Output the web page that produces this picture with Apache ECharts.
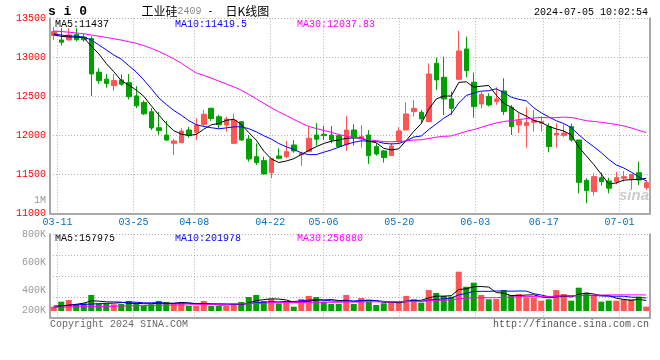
<!DOCTYPE html>
<html><head><meta charset="utf-8">
<script src="https://cdn.jsdelivr.net/npm/echarts@6/dist/echarts.min.js"></script>
<style>html,body{margin:0;padding:0;background:#fff}#c{width:660px;height:360px}</style>
</head><body><div id="c"></div>
<script>
const dates = ["03-08","03-11","03-12","03-13","03-14","03-15","03-18","03-19","03-20","03-21","03-22","03-25","03-26","03-27","03-28","03-29","04-01","04-02","04-03","04-08","04-09","04-10","04-11","04-12","04-15","04-16","04-17","04-18","04-19","04-22","04-23","04-24","04-25","04-26","04-29","04-30","05-06","05-07","05-08","05-09","05-10","05-13","05-14","05-15","05-16","05-17","05-20","05-21","05-22","05-23","05-24","05-27","05-28","05-29","05-30","05-31","06-03","06-04","06-05","06-06","06-07","06-11","06-12","06-13","06-14","06-17","06-18","06-19","06-20","06-21","06-24","06-25","06-26","06-27","06-28","07-01","07-02","07-03","07-04","07-05"];
const labelDates = ["03-11","03-25","04-08","04-22","05-06","05-20","06-03","06-17","07-01"];
const opens = [13280,13222,13222,13295,13260,13240,12810,12720,12637,12710,12675,12505,12420,12302,12097,12004,11897,11905,12068,12038,12140,12346,12238,12132,11897,12175,11952,11726,11675,11521,11735,11727,11876,11750,11791,12004,12013,12004,11996,11876,12068,11953,12004,11855,11800,11739,11932,12068,12304,12295,12175,12923,12744,12466,12718,13107,12680,12402,12496,12432,12569,12359,12133,12124,12167,12154,12111,12004,12000,12111,11940,11423,11278,11457,11415,11406,11449,11440,11521,11329];
const closes = [13330,13193,13287,13225,13225,12786,12700,12665,12701,12655,12495,12378,12275,12095,12060,11940,11927,12055,12004,12132,12270,12215,12135,12209,12196,11940,11696,11650,11505,11700,11705,11790,11800,11770,11962,11950,11996,11940,11855,12068,11970,11983,11740,11760,11714,11863,12056,12274,12346,12210,12786,12710,12466,12346,13081,12829,12368,12526,12389,12466,12304,12111,12188,12163,12188,12175,11855,12026,12030,11940,11397,11291,11470,11406,11321,11457,11470,11500,11427,11393];
const lows = [13220,13150,13215,13205,13200,12505,12660,12610,12572,12635,12460,12350,12260,12068,12005,11927,11747,11897,11969,11940,12110,12185,12090,12045,11895,11930,11662,11620,11500,11450,11692,11705,11775,11610,11782,11868,11940,11897,11842,11800,11868,11842,11632,11739,11650,11735,11898,12068,12240,12154,12170,12580,12260,12260,12715,12744,12227,12346,12368,12389,12261,12004,12026,11842,12047,12047,11782,11842,11980,11920,11256,11128,11227,11355,11256,11372,11406,11308,11363,11300];
const highs = [13390,13372,13370,13372,13300,13270,12860,12785,12786,12780,12785,12630,12448,12350,12300,12183,11952,12090,12110,12218,12325,12355,12262,12238,12275,12180,12004,11897,11726,11705,11835,11927,11940,11790,12111,12154,12120,12120,12013,12248,12141,12133,12068,11898,11812,11898,12103,12423,12453,12325,12923,12996,13009,12560,13338,13265,12804,12560,12539,12616,12731,12389,12282,12359,12325,12240,12154,12154,12140,12150,11940,11449,11513,11521,11457,11534,11543,11500,11662,11427];
// volume (thousands, in the panel's axis units)
const volumes = [281,317,329,300,305,365,305,300,298,300,322,305,286,298,322,315,305,315,286,286,322,286,286,286,305,315,350,365,322,336,305,317,281,336,358,350,317,300,300,365,300,343,317,293,305,315,315,358,336,310,400,379,358,353,532,424,453,365,334,336,400,365,372,348,346,324,334,400,372,324,417,381,365,317,324,324,334,334,353,281];
// moving-average values before enough history exists
const ma5Head = [13290,13268,13262,13258];
const ma10Head = [13300,13285,13275,13268,13260,13222,13160,13095,13030];
const ma30Head = [13337,13330,13322,13312,13302,13285,13270,13255,13238,13220,13200,13180,13150,13115,13075,13030,12980,12925,12860,12800,12768,12733,12695,12658,12622,12578,12525,12468,12410];
const volMa5Head = [277,284,292,298];
const volMa10Head = [286,288,291,294,297,300,302,304,306];
const volMa30Head = [277,278,279,280,281,281,282,283,284,286,287,288,289,290,291,292,293,293,294,295,296,297,298,299,300,301,302,304,305];
const priceMin = 11000, priceMax = 13500, priceStep = 500;
const volLabelTicks = [200, 800, 200]; // min, max, step (K)
const mainLegend = ["MA5:11437","MA10:11419.5","MA30:12037.83"];
const volLegend = ["MA5:157975","MA10:201978","MA30:256880"];

function ma(arr, n, head){
  return arr.map((v,i)=> i < n-1 ? head[i] : +(arr.slice(i-n+1,i+1).reduce((a,b)=>a+b,0)/n).toFixed(2));
}
const UP='#ff5555', DOWN='#00a000';
const MONO='"Liberation Mono","DejaVu Sans Mono",monospace';
const GRID='#b0b0b0', FRAME='#a8a8a8';
const isLbl=(i,v)=>labelDates.indexOf(v)>=0;

const chart = echarts.init(document.getElementById('c'), null, {renderer:'canvas'});
const candleData = dates.map((d,i)=>[opens[i],closes[i],lows[i],highs[i]]);
const volData = volumes.map((v,i)=>({value:v,itemStyle:{color: closes[i]>=opens[i]?UP:DOWN}}));
const lineS = (data,color,xi,yi)=>({type:'line',xAxisIndex:xi,yAxisIndex:yi,data,symbol:'none',silent:true,lineStyle:{color,width:1},z:5});
const txt = (x,y,text,fill,opts)=>Object.assign({type:'text',silent:true,style:Object.assign({x,y,text,fill,font:'10px '+MONO,align:'left',verticalAlign:'middle',textAlign:'left',textVerticalAlign:'middle'},opts||{})});
const legColors=['#000000','#0000ff','#ff00ff'];
const legX=[55,175,297];

const option = {
  animation:false,
  backgroundColor:'#ffffff',
  grid:[
    {left:50,top:18.3,width:600,height:195},
    {left:50,top:234.3,width:600,height:76.7},
    {left:50,top:234.3,width:600,height:83.4}
  ],
  xAxis:[
    {type:'category',gridIndex:0,data:dates,boundaryGap:true,show:false,position:'bottom'},
    {type:'category',gridIndex:0,data:dates,boundaryGap:false,position:'bottom',
      axisLine:{show:true,onZero:false,lineStyle:{color:FRAME,width:2}},axisTick:{show:false},
      axisLabel:{interval:isLbl,color:'#0070c0',fontFamily:MONO,fontSize:10,margin:4},
      splitLine:{show:true,interval:isLbl,lineStyle:{color:GRID,type:[1,2],width:1}}},
    {type:'category',gridIndex:1,data:dates,boundaryGap:true,show:false,position:'bottom'},
    {type:'category',gridIndex:2,data:dates,boundaryGap:false,position:'bottom',
      axisLine:{show:true,onZero:false,lineStyle:{color:FRAME,width:2}},axisTick:{show:false},axisLabel:{show:false},
      splitLine:{show:true,interval:isLbl,lineStyle:{color:GRID,type:[1,2],width:1}}}
  ],
  yAxis:[
    {type:'value',gridIndex:0,min:priceMin,max:priceMax,interval:priceStep,position:'left',
      axisLine:{show:true,onZero:false,lineStyle:{color:FRAME,width:2}},axisTick:{show:false},
      axisLabel:{color:'#ff0000',fontFamily:MONO,fontSize:10,margin:4,formatter:v=>String(v)},
      splitLine:{show:true,lineStyle:{color:GRID,type:[1,2],width:1}}},
    {type:'value',gridIndex:0,min:priceMin,max:priceMax,position:'right',
      axisLine:{show:true,onZero:false,lineStyle:{color:FRAME,width:2}},axisTick:{show:false},axisLabel:{show:false},splitLine:{show:false}},
    {type:'value',gridIndex:1,min:250,max:800,show:false},
    {type:'value',gridIndex:2,min:0,max:4,interval:1,position:'left',
      axisLine:{show:true,onZero:false,lineStyle:{color:FRAME,width:2}},axisTick:{show:false},axisLabel:{show:false},
      splitLine:{show:true,lineStyle:{color:GRID,type:[1,2],width:1}}},
    {type:'value',gridIndex:2,min:0,max:4,position:'right',
      axisLine:{show:true,onZero:false,lineStyle:{color:FRAME,width:2}},axisTick:{show:false},axisLabel:{show:false},splitLine:{show:false}},
    {type:'value',gridIndex:2,min:volLabelTicks[0],max:volLabelTicks[1],interval:volLabelTicks[2],position:'left',
      axisLine:{show:false},axisTick:{show:false},splitLine:{show:false},
      axisLabel:{color:'#999999',fontFamily:MONO,fontSize:10,margin:4,showMinLabel:false,formatter:v=>v+'K'}}
  ],
  series:[
    {type:'candlestick',xAxisIndex:0,yAxisIndex:0,data:candleData,barWidth:5,silent:true,
      itemStyle:{color:UP,color0:DOWN,borderColor:UP,borderColor0:DOWN,borderWidth:1}},
    lineS(ma(closes,5,ma5Head),'#000000',0,0),
    lineS(ma(closes,10,ma10Head),'#0000ff',0,0),
    lineS(ma(closes,30,ma30Head),'#ff00ff',0,0),
    {type:'bar',xAxisIndex:2,yAxisIndex:2,data:volData,barWidth:6,silent:true},
    lineS(ma(volumes,5,volMa5Head),'#000000',2,2),
    lineS(ma(volumes,10,volMa10Head),'#0000ff',2,2),
    lineS(ma(volumes,30,volMa30Head),'#ff00ff',2,2)
  ],
  graphic:[
    txt(48,11.5,'s i 0','#000',{font:'bold 13px '+MONO}),
    {type:'text',silent:true,style:{x:141.5,y:11,text:'{cn|工业硅}{num|2409}{m| -  }{cn|日K线图}',align:'left',verticalAlign:'middle',textAlign:'left',textVerticalAlign:'middle',
      rich:{cn:{fontFamily:'"Noto Sans CJK SC"',fontSize:12,fill:'#000',color:'#000'},num:{fontFamily:MONO,fontSize:10,fill:'#888',color:'#888'},m:{fontFamily:MONO,fontSize:10,fill:'#000',color:'#000'}}}},
    txt(648,12.5,'2024-07-05 10:02:54','#000',{align:'right',textAlign:'right'}),
    ...mainLegend.map((t,k)=>txt(legX[k],24,t,legColors[k])),
    ...volLegend.map((t,k)=>txt(legX[k],238.5,t,legColors[k])),
    txt(46,200,'1M','#999999',{align:'right',textAlign:'right'}),
    txt(46,310,'200K','#999999',{align:'right',textAlign:'right'}),
    txt(649,196,'sina','#cccccc',{align:'right',textAlign:'right',font:'italic bold 15px Arial, "Liberation Sans"'}),
    txt(50,324,'Copyright 2024 SINA.COM','#666666'),
    txt(649,324,'http://finance.sina.com.cn','#555555',{align:'right',textAlign:'right'})
  ]
};
chart.setOption(option);
</script></body></html>
